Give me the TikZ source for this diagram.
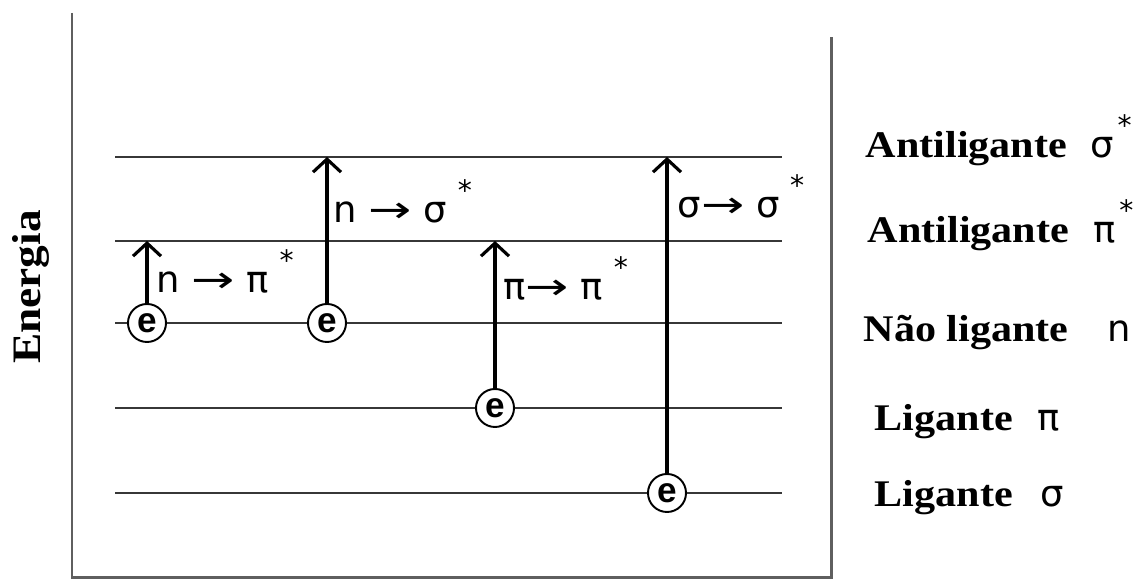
\documentclass[tikz,border=0pt]{standalone}
\usepackage{fontspec}
\setmainfont{Liberation Serif}
\newfontfamily\widefont[FakeStretch=1.12]{Liberation Serif}
\newfontfamily\symbfont{DejaVu Sans}
\newfontfamily\efont{Liberation Sans}
\usepackage{xcolor}
\definecolor{framegray}{RGB}{95, 95, 95}
\definecolor{levelgray}{RGB}{55, 55, 55}
\usepackage{graphicx}
\usetikzlibrary{arrows.meta}

\newcommand{\trstar}{\hspace{3pt}\raisebox{1.1ex}{\footnotesize *}}
\newcommand{\trarrow}{\scalebox{1.4}[1]{→}}
\newcommand{\orbstar}{\hspace{1pt}\raisebox{1.1ex}{\footnotesize *}}

\tikzset{
  frameline/.style={draw=framegray, line width=0.85pt},
  level/.style={draw=levelgray, line width=0.6pt},
  electron/.style={
    circle,
    draw,
    line width=0.55pt,
    fill=white,
    minimum size=0.38cm,
    inner sep=0pt,
    font=\efont\bfseries\fontsize{10}{10}\selectfont
  },
  transition/.style={line width=0.9pt, -{Straight Barb[length=1.3mm,width=2.8mm]}},
  trlabel/.style={anchor=base west, inner sep=0pt, font=\symbfont\fontsize{10.5}{12}\selectfont},
  orbital/.style={anchor=base west, inner sep=0pt, font=\widefont\fontsize{10.7}{13}\selectfont\bfseries},
  orbsymb/.style={anchor=base west, inner sep=0pt, font=\symbfont\fontsize{10.5}{12}\selectfont}
}

\begin{document}
\begin{tikzpicture}[x=0.01cm, y=-0.01cm]
  \useasboundingbox (0,0) rectangle (1136,580);

  % moldura
  \coordinate (fTL) at (72,13);
  \coordinate (fBL) at (72,578);
  \coordinate (fBR) at (831,578);
  \coordinate (fTR) at (831,37);
  \draw[frameline] (fTL) -- (fBL) -- (fBR) -- (fTR);

  \node[rotate=90, font=\widefont\fontsize{11.5}{14}\selectfont\bfseries] (energia) at (31,287) {Energia};

  % niveis de energia
  \foreach \lv/\ly in {ss/157, ps/241, nb/323, pb/408, sb/493}{
    \coordinate (\lv L) at (115,\ly);
    \coordinate (\lv R) at (782,\ly);
    \draw[level] (\lv L) -- (\lv R);
  }

  % eletrons
  \node[electron] (e1) at (147,323) {e};
  \node[electron] (e2) at (327,323) {e};
  \node[electron] (e3) at (495,408) {e};
  \node[electron] (e4) at (667,493) {e};

  % transicoes
  \draw[transition] (e1.north) -- (e1 |- psL);
  \draw[transition] (e2.north) -- (e2 |- ssL);
  \draw[transition] (e3.north) -- (e3 |- psL);
  \draw[transition] (e4.north) -- (e4 |- ssL);

  \node[trlabel] (t1) at (156,293) {n \trarrow\ π\trstar};
  \node[trlabel] (t2) at (333,223) {n \trarrow\ σ\trstar};
  \node[trlabel] (t3) at (503,300) {π\trarrow\ π\trstar};
  \node[trlabel] (t4) at (677,218) {σ\trarrow\ σ\trstar};

  % orbitais
  \node[orbital] (o1) at (865,158) {Antiligante};
  \node[orbital] (o2) at (867,243) {Antiligante};
  \node[orbital] (o3) at (863,342) {Não ligante};
  \node[orbital] (o4) at (874,431) {Ligante};
  \node[orbital] (o5) at (874,507) {Ligante};
  \node[orbsymb] (s1) at (1090,158) {σ\orbstar};
  \node[orbsymb] (s2) at (1093,243) {π\orbstar};
  \node[orbsymb] (s3) at (1107,342) {n};
  \node[orbsymb] (s4) at (1037,431) {π};
  \node[orbsymb] (s5) at (1040,507) {σ};
\end{tikzpicture}
\end{document}
